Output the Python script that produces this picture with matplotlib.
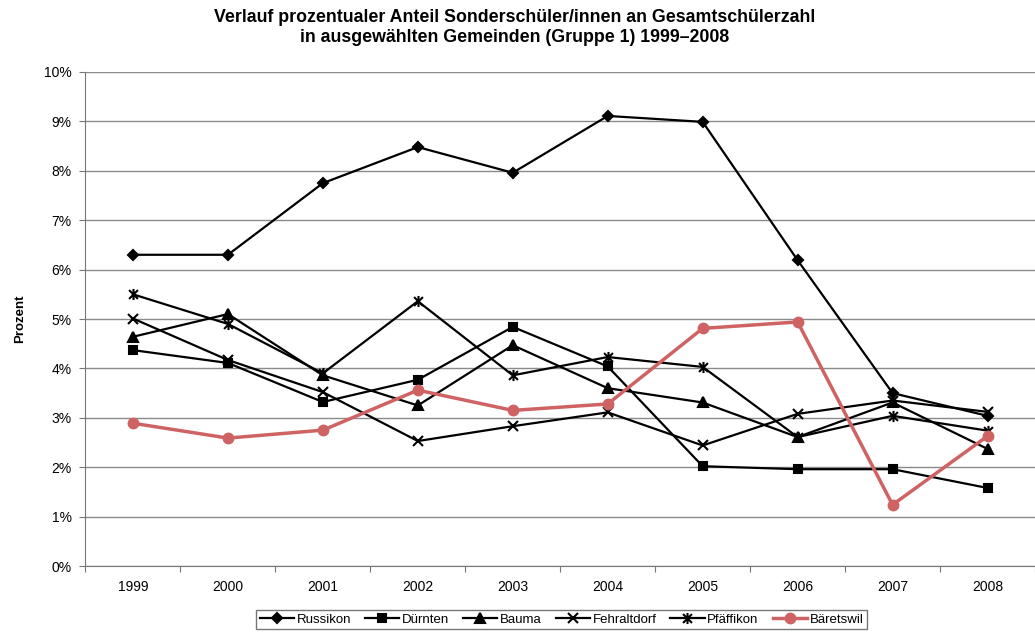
import matplotlib.pyplot as plt
from matplotlib.path import Path
from matplotlib.ticker import FixedLocator, PercentFormatter

plt.rcParams['font.family'] = ['Liberation Sans', 'DejaVu Sans']

years = ['1999', '2000', '2001', '2002', '2003', '2004', '2005', '2006', '2007', '2008']

russikon = [6.30, 6.30, 7.75, 8.48, 7.96, 9.11, 8.99, 6.19, 3.50, 3.04]
duernten = [4.37, 4.11, 3.32, 3.77, 4.84, 4.04, 2.02, 1.96, 1.96, 1.58]
bauma = [4.64, 5.10, 3.86, 3.25, 4.47, 3.60, 3.31, 2.61, 3.31, 2.37]
fehraltdorf = [5.01, 4.17, 3.52, 2.53, 2.83, 3.11, 2.44, 3.08, 3.35, 3.12]
pfaeffikon = [5.50, 4.90, 3.90, 5.36, 3.86, 4.23, 4.03, 2.61, 3.04, 2.74]
baeretswil = [2.89, 2.59, 2.75, 3.56, 3.15, 3.28, 4.81, 4.94, 1.24, 2.63]

# asterisk marker like the spreadsheet one: vertical bar plus an x
asterisk = Path(
    [(0, -1), (0, 1), (-0.8, -0.8), (0.8, 0.8), (-0.8, 0.8), (0.8, -0.8)],
    [Path.MOVETO, Path.LINETO, Path.MOVETO, Path.LINETO, Path.MOVETO, Path.LINETO],
)

series = [
    ('Russikon', russikon, 'D', 'black', 5),
    ('Dürnten', duernten, 's', 'black', 6),
    ('Bauma', bauma, '^', 'black', 6.5),
    ('Fehraltdorf', fehraltdorf, 'x', 'black', 7),
    ('Pfäffikon', pfaeffikon, asterisk, 'black', 8),
    ('Bäretswil', baeretswil, 'o', '#cf6363', 7),
]

fig = plt.figure(figsize=(10.35, 6.33), dpi=100)
ax = fig.add_axes([0.0826, 0.1058, 0.9174, 0.7805])

x = list(range(len(years)))
for name, vals, marker, color, ms in series:
    lw = 2.5 if color != 'black' else 1.6
    ax.plot(x, [v / 100 for v in vals], color=color, linewidth=lw, marker=marker,
            markersize=ms, markeredgewidth=1.5, markerfacecolor=color,
            markeredgecolor=color, label=name, zorder=3)

ax.set_xlim(-0.5, len(years) - 0.5)
ax.set_ylim(0, 0.10)
ax.set_yticks([i / 100 for i in range(11)])
ax.yaxis.set_major_formatter(PercentFormatter(1.0, decimals=0))
ax.set_xticks(x)
ax.set_xticklabels(years)
ax.xaxis.set_minor_locator(FixedLocator([i - 0.5 for i in range(len(years) + 1)]))
ax.tick_params(axis='x', which='major', length=0, pad=10, labelsize=10)
ax.tick_params(axis='x', which='minor', length=4, width=0.8, color='#777777')
ax.tick_params(axis='y', length=4, width=0.8, color='#777777', labelsize=10, pad=6)

ax.grid(axis='y', color='#8a8a8a', linewidth=1.0)
ax.set_axisbelow(True)
for side in ['top', 'right']:
    ax.spines[side].set_visible(False)
ax.spines['left'].set_color('#777777')
ax.spines['bottom'].set_color('#777777')

ax.set_ylabel('Prozent', fontsize=9.5, fontweight='bold', labelpad=13)

fig.text(0.497, 0.985, 'Verlauf prozentualer Anteil Sonderschüler/innen an Gesamtschülerzahl\n'
         'in ausgewählten Gemeinden (Gruppe 1) 1999–2008',
         ha='center', va='top', fontsize=12.8, fontweight='bold', linespacing=1.22)

leg = fig.legend(loc='center', bbox_to_anchor=(0.5425, 0.0213), ncol=6, fontsize=9.5,
                 frameon=True, fancybox=False, edgecolor='#555555', handlelength=2.6,
                 columnspacing=1.05, handletextpad=0.2, borderpad=0.25)
leg.get_frame().set_linewidth(1.0)

fig.savefig('out.png', dpi=100)
